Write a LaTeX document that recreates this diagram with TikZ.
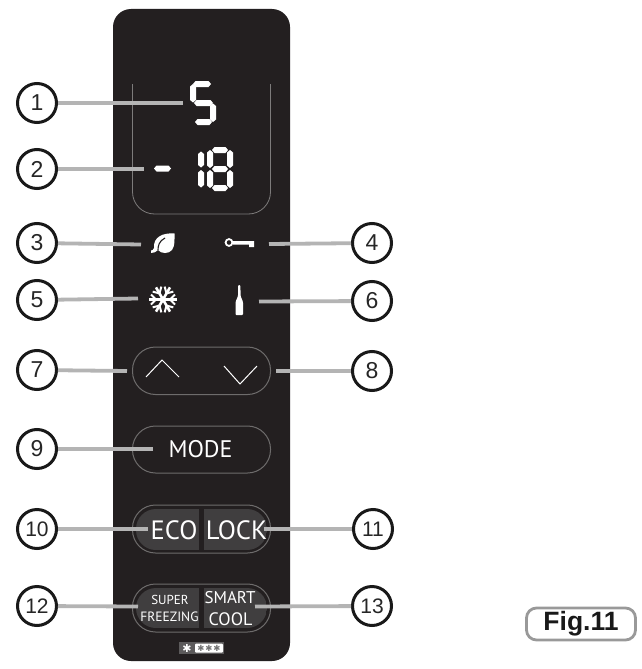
\documentclass[tikz,border=0pt]{standalone}
\usepackage{fontspec}
\setmainfont{PT Sans}
\newfontfamily\figfont{Liberation Sans}
\newfontfamily\symfont{DejaVu Sans}
\definecolor{panel}{HTML}{231F20}
\definecolor{leader}{HTML}{B4B4B4}
\definecolor{rim}{HTML}{6E6C6C}
\definecolor{btn}{HTML}{403E3F}
\definecolor{badge}{HTML}{5C5A5B}
\newcommand{\hseg}[3]{\fill[white] (#1+2.5,#3-3) -- (#2-2.5,#3-3) -- (#2,#3) -- (#2-2.5,#3+3) -- (#1+2.5,#3+3) -- (#1,#3) -- cycle;}
\newcommand{\vseg}[3]{\fill[white] (#1,#2) -- (#1+3,#2+2.5) -- (#1+3,#3-2.5) -- (#1,#3) -- (#1-3,#3-2.5) -- (#1-3,#2+2.5) -- cycle;}
\tikzset{
  callout/.style={circle,draw=black!90,fill=white,line width=3pt,minimum size=39pt,inner sep=0pt,font=\figfont\fontsize{23}{25}\selectfont,text=black!85},
  leaderline/.style={draw=leader,line width=3.8pt},
  pill/.style={draw=rim,line width=1pt,rounded corners=23pt},
  lcd/.style={text=white,inner sep=0pt},
}
\begin{document}
\begin{tikzpicture}[x=1pt,y=-1pt]
\useasboundingbox (0,0) rectangle (642,669);
\fill[white] (0,0) rectangle (642,669);
% panel
\fill[panel,rounded corners=18pt] (113,9) rectangle (290,661);
% display frame
\draw[draw=rim!90,line width=0.8pt,rounded corners=22pt] (132.5,84) -- (132.5,214) -- (270.5,214) -- (270.5,84);
% digit 5
\hseg{193}{211}{84}
\vseg{193}{84}{102.5}
\hseg{194}{213}{103}
\vseg{213}{103.5}{122}
\hseg{195}{212}{122}
% dash
\hseg{154}{171}{168.5}
% digit 1
\vseg{201}{151.5}{167.5}
\vseg{201}{170}{187.5}
% digit 8
\hseg{212}{228}{150}
\vseg{210}{150}{168}
\vseg{230}{150}{168}
\hseg{212}{228}{169}
\vseg{210}{170}{188}
\vseg{230}{170}{188}
\hseg{212}{228}{188}
% leaf
\fill[white] (174.5,233.5) .. controls (163,232.5) and (153,237) .. (154,248) .. controls (153.5,250) and (152,250.5) .. (151,250.5) -- (151,253) .. controls (154,253) and (156,252) .. (158,250) .. controls (161,254) and (169,254) .. (172,250) .. controls (175,246) and (174.5,240) .. (174.5,233.5) -- cycle;
\draw[panel,line width=1.1pt] (158,250) .. controls (158,246) and (159,241) .. (165,238);
% key
\draw[white,line width=1.8pt] (229,242.5) circle (3.4pt);
\fill[white] (233,241) -- (254,241) -- (254,247) -- (249,247) -- (249,244.5) -- (233,244.5) -- cycle;
% snowflake
\foreach \a in {0,60,120}{
  \begin{scope}[shift={(163,299.5)},rotate=\a]
    \draw[white,line width=2.6pt] (-14,0) -- (14,0);
    \draw[white,line width=2pt] (12,-5) -- (7,0) -- (12,5) (-12,-5) -- (-7,0) -- (-12,5);
  \end{scope}
}
% bottle
\fill[white,rounded corners=1pt] (238.2,285) -- (240.4,285) -- (240.6,296) -- (243,302) -- (243,315) -- (235.5,315) -- (235.5,302) -- (238,296) -- cycle;
% arrows pill
\draw[pill] (132.5,347) rectangle (270.5,394.5);
\draw[white,line width=1pt] (146,377) -- (162,360) -- (179,377);
\draw[white,line width=1pt] (224,366) -- (240,384) -- (257,366);
% mode pill
\draw[pill] (132.5,426) rectangle (270.5,473);
\node[lcd,font=\fontsize{24}{26}\selectfont] (mode) at (200.5,449.5) {MODE};
% eco / lock
\begin{scope}
  \clip[rounded corners=20pt] (136,509) rectangle (267,550);
  \fill[btn] (136,509) rectangle (198.5,550);
  \fill[btn] (204,509) rectangle (267,550);
\end{scope}
\draw[pill] (132.5,505) rectangle (270.5,553);
\node[lcd,font=\fontsize{26.5}{30}\selectfont] (eco) at (174,530) {ECO};
\node[lcd,font=\fontsize{26.5}{30}\selectfont] (lock) at (236.5,530) {LOCK};
% super / smart
\begin{scope}
  \clip[rounded corners=20pt] (136,588) rectangle (267,628);
  \fill[btn] (136,588) rectangle (198.5,628);
  \fill[btn] (204,588) rectangle (267,628);
\end{scope}
\draw[pill] (132.5,584) rectangle (270.5,632);
\node[lcd,font=\fontsize{13}{15}\selectfont] (super) at (170,600) {SUPER};
\node[lcd,font=\fontsize{13.5}{15}\selectfont] (freezing) at (169.5,617) {FREEZING};
\node[lcd,font=\fontsize{17}{19}\selectfont] (smart) at (230,597.5) {SMART};
\node[lcd,font=\fontsize{18}{20}\selectfont] (cool) at (230.5,619) {COOL};
% energy badge
\fill[badge] (179,642) rectangle (224,654);
\fill[white,rounded corners=1pt] (195,643.5) rectangle (223,652.5);
\node[text=white,inner sep=0pt,font=\symfont\fontsize{11}{11}\selectfont] (st0) at (187,648) {✱};
\foreach \n/\x in {st1/201,st2/209,st3/217}{
  \node[text=black!55,inner sep=0pt,font=\symfont\fontsize{8.5}{9}\selectfont] (\n) at (\x,648) {✱};
}
% leader ends
\coordinate (e1) at (183,103);
\coordinate (e2) at (144,169);
\coordinate (e3) at (141,244.5);
\coordinate (e4) at (269,244);
\coordinate (e5) at (138,298.5);
\coordinate (e6) at (259,301.5);
\coordinate (e7) at (127,371);
\coordinate (e8) at (276,371);
\coordinate (e9) at (153,449);
\coordinate (e10) at (148,529);
\coordinate (e11) at (264,529);
\coordinate (e12) at (138,606.5);
\coordinate (e13) at (255,606.5);
% callouts
\foreach \n/\x/\y in {1/37/103,2/37/169,3/37/243,4/372/243,5/37/300,6/372/301,7/37/370,8/372/371,9/37/449,10/37/529,11/373/529,12/37/606,13/372/606}{
  \node[callout] (c\n) at (\x,\y) {\ifnum\n>9 \fontsize{21}{23}\selectfont\fi\n};
}
\foreach \n in {1,...,13}{
  \draw[leaderline] (c\n) -- (e\n);
}
% figure label
\node[draw=leader!85!black,line width=2.8pt,rounded corners=10pt,minimum width=109pt,minimum height=32pt,inner sep=0pt,text=black!90,font=\figfont\bfseries\fontsize{26.5}{28}\selectfont] (fig) at (581,624) {Fig.11};
\end{tikzpicture}
\end{document}
